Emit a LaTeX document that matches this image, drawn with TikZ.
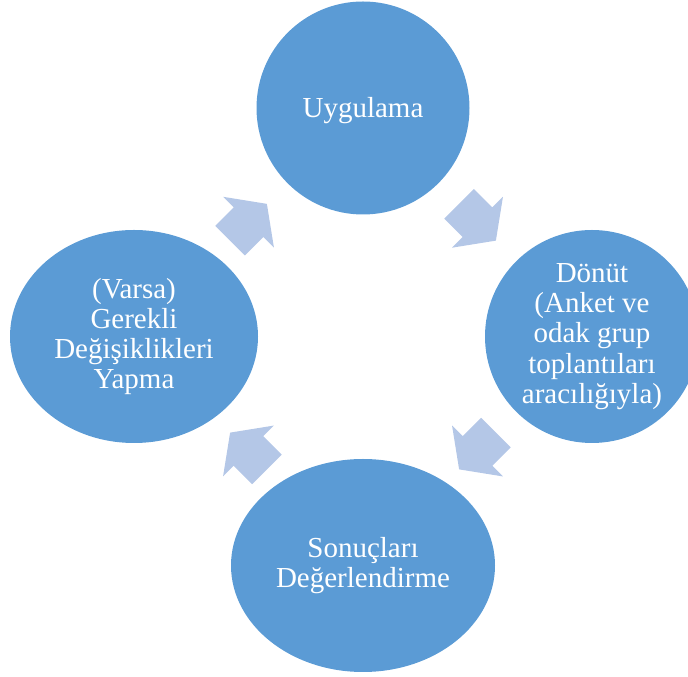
\documentclass[tikz,border=0pt]{standalone}
\usepackage{fontspec}
\setmainfont{Liberation Serif}
\usetikzlibrary{shapes.geometric,calc}
\definecolor{stageblue}{HTML}{5B9BD5}
\definecolor{arrowblue}{HTML}{B4C7E7}

\tikzset{
    cyclearrow/.pic={
        \fill[arrowblue] (-26,-21) -- (0,-21) -- (0,-36) -- (26,0)
            -- (0,36) -- (0,21) -- (-26,21) -- cycle;
    }
}

\begin{document}
\begin{tikzpicture}[x=1pt, y=1pt,
    stage/.style={ellipse, fill=stageblue, text=white, inner sep=0pt,
        minimum height=213pt, align=center,
        font=\fontsize{29}{30.2}\selectfont}]
    \useasboundingbox (0,0) rectangle (688,677);
    \clip (0,0) rectangle (688,677);

    \node[stage, minimum width=213pt, text height=22pt, text depth=2pt]
        (Impl) at (363,569) {Uygulama};
    \node[stage, minimum width=214pt] (Feedback) at (592,340.5)
        {Dönüt\\(Anket ve\\odak grup\\toplantıları\\aracılığıyla)};
    \node[stage, minimum width=264pt] (Eval) at (363,111.5)
        {Sonuçları\\Değerlendirme};
    \node[stage, minimum width=248pt] (Change) at (134,340.5)
        {(Varsa)\\Gerekli\\Değişiklikleri\\Yapma};

    % arrows between the stages
    \pic[rotate=-45] at ($(Impl)!0.5!(Feedback)$) {cyclearrow};
    \pic[rotate=-135] at ($(Feedback)!0.5!(Eval)$) {cyclearrow};
    \pic[rotate=135] at ($(Eval)!0.5!(Change)$) {cyclearrow};
    \pic[rotate=45] at ($(Change)!0.5!(Impl)$) {cyclearrow};
\end{tikzpicture}
\end{document}
